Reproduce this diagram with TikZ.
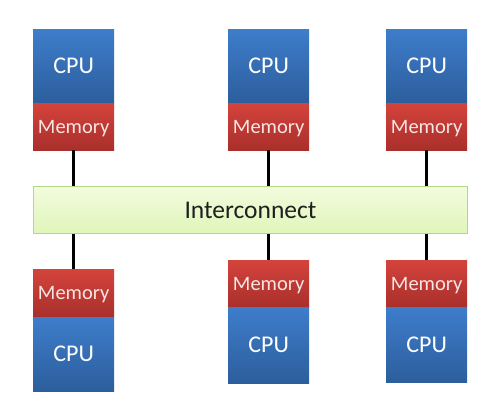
\documentclass[tikz,border=0pt]{standalone}
\usepackage{fontspec}
\setmainfont{Carlito}
\begin{document}
\begin{tikzpicture}[x=1pt,y=-1pt,
  cpubox/.style={draw=none,top color=cpuTop,bottom color=cpuBot,text=white,inner sep=0,anchor=north west,minimum width=81pt,font=\fontsize{24}{26}\selectfont},
  membox/.style={draw=none,top color=memTop,bottom color=memBot,text=memText,inner sep=0,anchor=north west,minimum width=81pt,minimum height=47pt,text depth=0pt,font=\fontsize{20.5}{22}\selectfont},
  link/.style={line width=3pt,black}]
\definecolor{cpuTop}{HTML}{3E7DCB}
\definecolor{cpuBot}{HTML}{2C5E9C}
\definecolor{memTop}{HTML}{D4433C}
\definecolor{memBot}{HTML}{A92F2B}
\definecolor{memText}{HTML}{F6E6E4}
\definecolor{grTop}{HTML}{F2FCDD}
\definecolor{grBot}{HTML}{E0F5BA}
\definecolor{grLine}{HTML}{B3D986}
\useasboundingbox (0,0) rectangle (502,402);
% interconnect
\node[draw=grLine,line width=1pt,top color=grTop,bottom color=grBot,anchor=north west,inner sep=0,minimum width=434pt,minimum height=47pt,text=black!88,font=\fontsize{25.5}{27}\selectfont] (ic) at (33,186) {Interconnect};
% top row
\node[cpubox,minimum height=74pt] (c1) at (33,29) {CPU};
\node[membox] (m1) at (33,103) {Memory};
\node[cpubox,minimum height=74pt] (c2) at (228,29) {CPU};
\node[membox] (m2) at (228,103) {Memory};
\node[cpubox,minimum height=74pt] (c3) at (386,29) {CPU};
\node[membox] (m3) at (386,103) {Memory};
% bottom row
\node[membox,minimum height=48pt] (m4) at (33,269) {Memory};
\node[cpubox,minimum height=74pt] (c4) at (33,317) {CPU};
\node[membox] (m5) at (228,260) {Memory};
\node[cpubox,minimum height=76pt] (c5) at (228,307) {CPU};
\node[membox] (m6) at (386,260) {Memory};
\node[cpubox,minimum height=75pt] (c6) at (386,307) {CPU};
% links
\draw[link] (m1.south) -- (m1.south |- ic.north);
\draw[link] (m2.south) -- (m2.south |- ic.north);
\draw[link] (m3.south) -- (m3.south |- ic.north);
\draw[link] (m4.north) -- (m4.north |- ic.south);
\draw[link] (m5.north) -- (m5.north |- ic.south);
\draw[link] (m6.north) -- (m6.north |- ic.south);
\end{tikzpicture}
\end{document}
